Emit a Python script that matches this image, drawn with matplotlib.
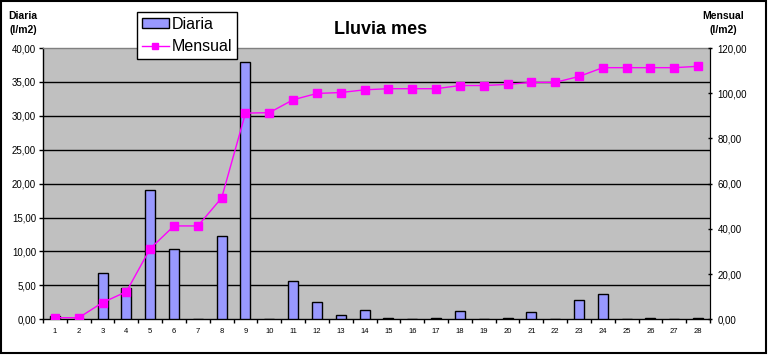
import matplotlib
matplotlib.use("Agg")
import matplotlib.pyplot as plt
from matplotlib.ticker import FuncFormatter, MultipleLocator
from matplotlib.patches import Rectangle
from matplotlib.lines import Line2D

plt.rcParams['font.family'] = ['Liberation Sans', 'DejaVu Sans']

days = list(range(1, 29))
day_labels = [str(d) for d in days]
diaria = [0.5, 0.0, 6.8, 4.6, 19.1, 10.3, 0.0, 12.3, 37.9, 0.0,
          5.6, 2.6, 0.6, 1.3, 0.2, 0.0, 0.15, 1.2, 0.0, 0.15,
          1.1, 0.0, 2.8, 3.8, 0.0, 0.15, 0.0, 0.15]
mensual = [0.7, 0.7, 7.4, 12.2, 31.3, 41.3, 41.3, 53.7, 91.2, 91.4,
           97.1, 99.9, 100.3, 101.5, 102.0, 102.0, 102.0, 103.4, 103.4, 103.9,
           104.8, 104.8, 107.4, 111.3, 111.3, 111.3, 111.3, 111.9]

title = "Lluvia mes"
left_label = "Diaria\n(l/m2)"
right_label = "Mensual\n(l/m2)"

fig = plt.figure(figsize=(7.68, 3.56), dpi=100)
W, H = 768, 356

def px(x0, y0, x1, y1):
    return [x0 / W, 1 - y1 / H, (x1 - x0) / W, (y1 - y0) / H]

ax = fig.add_axes(px(43, 48, 710, 319.3))
ax.set_facecolor('#C0C0C0')
ax.bar(days, diaria, width=0.42, color='#9999FF', edgecolor='black', linewidth=1, zorder=3)
ax.set_xlim(0.5, 28.5)
ax.set_ylim(0, 40)
ax.yaxis.set_major_locator(MultipleLocator(5))
fmt = FuncFormatter(lambda v, p: f"{v:.2f}".replace('.', ','))
ax.yaxis.set_major_formatter(fmt)
for yv in range(5, 40, 5):
    ax.axhline(yv, color='black', linewidth=1, zorder=1)
ax.set_xticks(days)
ax.set_xticklabels(day_labels, fontsize=5.5)
ax.set_xticks([d + 0.5 for d in range(0, 29)], minor=True)
ax.tick_params(axis='x', which='major', length=0, pad=6)
ax.tick_params(axis='x', which='minor', length=3, width=1, direction='out', color='black')
ax.tick_params(axis='y', labelsize=7, length=3, width=1, direction='out', pad=2)
for s in ['left', 'bottom']:
    ax.spines[s].set_color('black')
    ax.spines[s].set_linewidth(1)
ax.spines['top'].set_color('#808080')
ax.spines['top'].set_linewidth(1)
ax.spines['right'].set_color('black')

ax2 = ax.twinx()
ax2.plot(days, mensual, color='#FF00FF', linewidth=1, marker='s', markersize=5.5,
         markerfacecolor='#FF00FF', markeredgecolor='#FF00FF', zorder=5)
ax2.set_ylim(0, 120)
ax2.yaxis.set_major_locator(MultipleLocator(20))
ax2.yaxis.set_major_formatter(fmt)
ax2.tick_params(axis='y', labelsize=7, length=3, width=1, direction='inout', pad=4)
ax2.spines['right'].set_color('black')
ax2.spines['top'].set_visible(False)
ax2.spines['left'].set_visible(False)
ax2.spines['bottom'].set_visible(False)

fig.text(381 / W, 1 - 30 / H, title, ha='center', va='center', fontsize=13, fontweight='bold')
fig.text(23 / W, 1 - 23 / H, left_label, ha='center', va='center', fontsize=7.5,
         fontweight='bold', linespacing=1.6)
fig.text(723 / W, 1 - 23 / H, right_label, ha='center', va='center', fontsize=7.5,
         fontweight='bold', linespacing=1.6)

handles = [Rectangle((0, 0), 1, 1, facecolor='#9999FF', edgecolor='black', linewidth=1),
           Line2D([0], [0], color='#FF00FF', marker='s', markersize=5, linewidth=1)]
leg = fig.legend(handles, ['Diaria', 'Mensual'], loc='upper left',
                 bbox_to_anchor=(137 / W, 1 - 12 / H), fontsize=11.5, frameon=True,
                 fancybox=False, edgecolor='black', framealpha=1, borderpad=0.3,
                 handlelength=1.7, handleheight=0.55, handletextpad=0.2,
                 labelspacing=0.45, borderaxespad=0)
leg.get_frame().set_linewidth(1)

fig.patches.append(Rectangle((0.5 / W, 1 - 353 / H), 765.5 / W, 352.5 / H,
                             transform=fig.transFigure, fill=False, edgecolor='black',
                             linewidth=1.5))

fig.savefig('out.png', dpi=100)
